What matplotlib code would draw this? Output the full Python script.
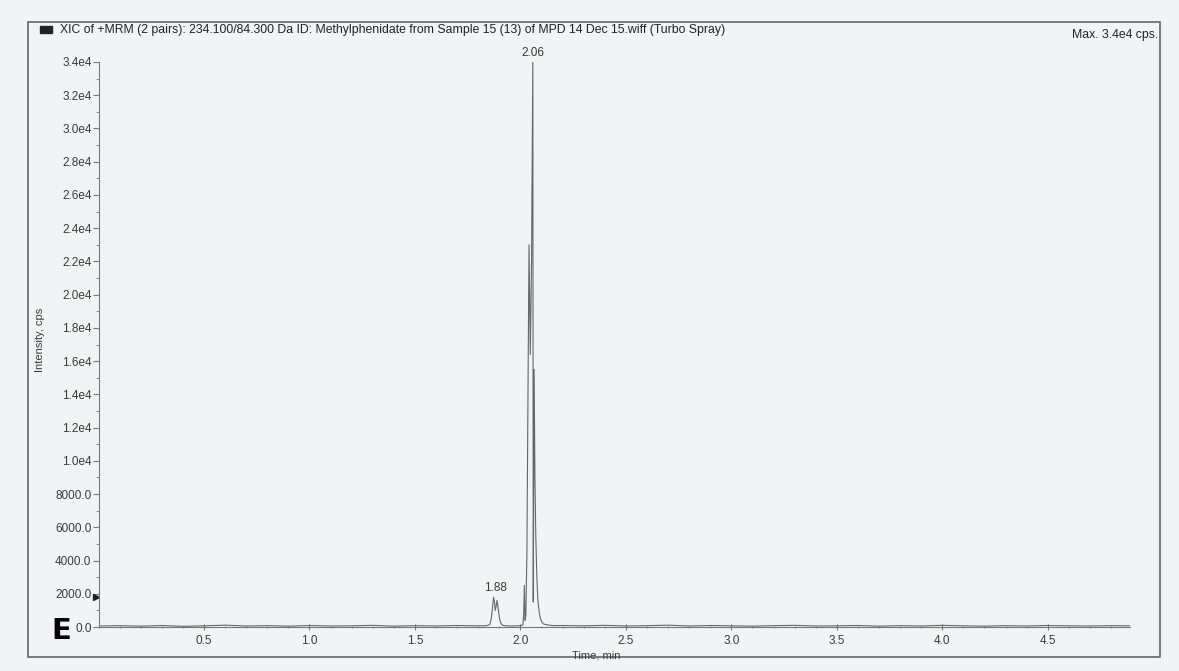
import matplotlib
matplotlib.use("Agg")
import matplotlib.pyplot as plt
from matplotlib.patches import Rectangle
from matplotlib.ticker import MultipleLocator, FixedLocator

plt.rcParams['font.family'] = ['Liberation Sans', 'DejaVu Sans']

# ---- data ----
times = [0.00, 0.10, 0.20, 0.30, 0.40, 0.50, 0.60, 0.70, 0.80, 0.90,
         1.00, 1.10, 1.20, 1.30, 1.40, 1.50, 1.60, 1.70, 1.80, 1.84,
         1.855, 1.862, 1.868, 1.873, 1.877, 1.881, 1.885, 1.889, 1.893, 1.898,
         1.903, 1.909, 1.915, 1.93, 1.96, 2.00, 2.012, 2.016, 2.019, 2.022,
         2.026, 2.031, 2.036, 2.041, 2.047, 2.053, 2.059, 2.061, 2.065, 2.069,
         2.073, 2.078, 2.083, 2.089, 2.095, 2.102, 2.11, 2.13, 2.16, 2.20,
         2.30, 2.40, 2.50, 2.60, 2.70, 2.80, 2.90, 3.00, 3.10, 3.20,
         3.30, 3.40, 3.50, 3.60, 3.70, 3.80, 3.90, 4.00, 4.10, 4.20,
         4.30, 4.40, 4.50, 4.60, 4.70, 4.80, 4.89]
intensity = [60, 80, 50, 90, 40, 70, 110, 60, 80, 50,
             90, 60, 70, 100, 50, 80, 60, 90, 70, 80,
             150, 500, 1200, 1800, 1500, 1000, 1250, 1600, 1300, 800,
             400, 200, 110, 70, 60, 80, 120, 900, 2500, 400,
             700, 4500, 14000, 23000, 16400, 22000, 34000, 1500, 15500, 9000,
             5500, 3000, 1600, 900, 500, 300, 180, 120, 80, 90,
             70, 100, 60, 80, 110, 60, 90, 70, 50, 80,
             100, 60, 70, 90, 50, 80, 60, 100, 70, 50,
             80, 60, 90, 70, 60, 80, 70]

peak_labels = [(2.06, 34000, "2.06"), (1.88, 1800, "1.88")]
y_ticks = [0, 2000, 4000, 6000, 8000, 10000, 12000, 14000, 16000, 18000,
           20000, 22000, 24000, 26000, 28000, 30000, 32000, 34000]
y_labels = ["0.0", "2000.0", "4000.0", "6000.0", "8000.0", "1.0e4", "1.2e4",
            "1.4e4", "1.6e4", "1.8e4", "2.0e4", "2.2e4", "2.4e4", "2.6e4",
            "2.8e4", "3.0e4", "3.2e4", "3.4e4"]
x_ticks = [0.5, 1.0, 1.5, 2.0, 2.5, 3.0, 3.5, 4.0, 4.5]
title = ("XIC of +MRM (2 pairs): 234.100/84.300 Da ID: Methylphenidate from "
         "Sample 15 (13) of MPD 14 Dec 15.wiff (Turbo Spray)")

W, H = 1179, 671
bg = '#f2f3f5'
txt = '#3a3a3a'
fig = plt.figure(figsize=(W / 100, H / 100), dpi=100, facecolor=bg)

# outer frame
fig.add_artist(Rectangle((28 / W, 1 - 657 / H), (1160 - 28) / W, (657 - 22) / H,
                         transform=fig.transFigure, fill=False,
                         edgecolor='#666666', linewidth=1.2))

ax = fig.add_axes([98.5 / W, 1 - 627 / H, (1130 - 98.5) / W, (627 - 62) / H])
ax.set_facecolor(bg)
ax.plot(times, intensity, color='#666666', linewidth=0.8)
ax.set_xlim(0, 4.89)
ax.set_ylim(0, 34000)

for s in ['top', 'right']:
    ax.spines[s].set_visible(False)
for s in ['left', 'bottom']:
    ax.spines[s].set_color('#777777')
    ax.spines[s].set_linewidth(0.8)

ax.yaxis.set_major_locator(FixedLocator(y_ticks))
ax.set_yticklabels(y_labels)
ax.yaxis.set_minor_locator(MultipleLocator(1000))
ax.xaxis.set_major_locator(FixedLocator(x_ticks))
ax.set_xticklabels([f"{v:.1f}" for v in x_ticks])
ax.xaxis.set_minor_locator(MultipleLocator(0.1))
ax.tick_params(axis='y', which='major', length=4, color='#777777',
               labelsize=8.5, labelcolor=txt, pad=1)
ax.tick_params(axis='y', which='minor', length=2, color='#777777')
ax.tick_params(axis='x', which='major', direction='inout', length=4,
               color='#777777', labelsize=8.5, labelcolor=txt, pad=4)
ax.tick_params(axis='x', which='minor', direction='inout', length=2,
               color='#777777')

for t, v, lab in peak_labels:
    ax.annotate(lab, (t, v), xytext=(0, 2.5), textcoords='offset points',
                ha='center', va='bottom', fontsize=8.5, color=txt,
                annotation_clip=False)

# threshold marker
ax.plot([-0.01], [1800], marker='>', color='#222222', markersize=5,
        clip_on=False)

fig.text(40 / W, 1 - 340 / H, "Intensity, cps", rotation=90, ha='center',
         va='center', fontsize=8, color=txt)
fig.text(596 / W, 1 - 656 / H, "Time, min", ha='center', va='center',
         fontsize=8, color=txt)
fig.text(61 / W, 1 - 631 / H, "E", ha='center', va='center', fontsize=21,
         fontweight='bold', color='black', family='DejaVu Sans')

fig.add_artist(Rectangle((40 / W, 1 - 33 / H), 12 / W, 7 / H,
                         transform=fig.transFigure, color='#222222'))
fig.text(60 / W, 1 - 30 / H, title, ha='left', va='center', fontsize=8.8,
         color='#222222')
fig.text(1158 / W, 1 - 35 / H, "Max. 3.4e4 cps.", ha='right', va='center',
         fontsize=8.8, color='#222222')

fig.savefig("out.png", dpi=100, facecolor=bg)
